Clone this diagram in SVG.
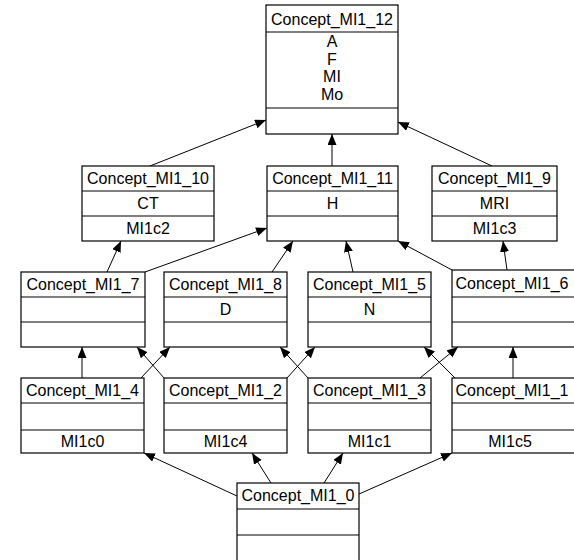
<svg xmlns="http://www.w3.org/2000/svg" width="574" height="560" viewBox="0 0 574 560">
<style>
.box{fill:#fff;stroke:#000;stroke-width:1.2}
.div{stroke:#000;stroke-width:1.2}
text{font-family:"Liberation Sans",Arial,sans-serif;font-size:16px;fill:#000;text-anchor:middle}
.e{stroke:#000;stroke-width:1;fill:none;marker-end:url(#ah)}
</style>
<defs>
<marker id="ah" markerUnits="userSpaceOnUse" markerWidth="12" markerHeight="10" refX="11" refY="4.5" orient="auto">
<path d="M0,0 L11,4.5 L0,9 z" fill="#000"/>
</marker>
</defs>
<rect width="574" height="560" fill="#fff"/>
<g id="connectors">
<line class="e" x1="150" y1="166" x2="266" y2="120"/>
<line class="e" x1="332" y1="166" x2="332" y2="134"/>
<line class="e" x1="492" y1="166" x2="398" y2="122"/>
<line class="e" x1="107" y1="272" x2="121" y2="241"/>
<line class="e" x1="145" y1="272" x2="267" y2="228"/>
<line class="e" x1="272" y1="272" x2="293" y2="241"/>
<line class="e" x1="353" y1="272" x2="346" y2="241"/>
<line class="e" x1="452" y1="270" x2="398" y2="241"/>
<line class="e" x1="507" y1="270" x2="503" y2="241"/>
<line class="e" x1="82" y1="378" x2="82" y2="347"/>
<line class="e" x1="164" y1="378" x2="137" y2="347"/>
<line class="e" x1="141" y1="378" x2="170" y2="347"/>
<line class="e" x1="287" y1="378" x2="315" y2="347"/>
<line class="e" x1="308" y1="378" x2="280" y2="347"/>
<line class="e" x1="420" y1="378" x2="458" y2="347"/>
<line class="e" x1="455" y1="378" x2="424" y2="347"/>
<line class="e" x1="513" y1="378" x2="513" y2="347"/>
<line class="e" x1="237" y1="496" x2="144" y2="453"/>
<line class="e" x1="271" y1="483" x2="252" y2="453"/>
<line class="e" x1="324" y1="483" x2="343" y2="453"/>
<line class="e" x1="359" y1="494" x2="452" y2="453"/>
</g>
<g id="n12">
<rect class="box" x="266" y="5" width="132" height="129"/>
<line class="div" x1="266" y1="32" x2="398" y2="32"/>
<line class="div" x1="266" y1="108" x2="398" y2="108"/>
<text x="332" y="25">Concept_MI1_12</text>
<text x="332" y="47">A</text>
<text x="332" y="64.5">F</text>
<text x="332" y="82">MI</text>
<text x="332" y="99.5">Mo</text>
</g>
<g id="n10">
<rect class="box" x="82" y="166" width="132" height="75"/>
<line class="div" x1="82" y1="191" x2="214" y2="191"/>
<line class="div" x1="82" y1="216" x2="214" y2="216"/>
<text x="148" y="184">Concept_MI1_10</text>
<text x="148" y="209">CT</text>
<text x="148" y="234">MI1c2</text>
</g>
<g id="n11">
<rect class="box" x="267" y="166" width="131" height="75"/>
<line class="div" x1="267" y1="191" x2="398" y2="191"/>
<line class="div" x1="267" y1="216" x2="398" y2="216"/>
<text x="332.5" y="184">Concept_MI1_11</text>
<text x="332.5" y="209">H</text>
</g>
<g id="n9">
<rect class="box" x="432" y="166" width="125" height="75"/>
<line class="div" x1="432" y1="191" x2="557" y2="191"/>
<line class="div" x1="432" y1="216" x2="557" y2="216"/>
<text x="494.5" y="184">Concept_MI1_9</text>
<text x="494.5" y="209">MRI</text>
<text x="494.5" y="234">MI1c3</text>
</g>
<g id="n7">
<rect class="box" x="21" y="272" width="124" height="75"/>
<line class="div" x1="21" y1="297" x2="145" y2="297"/>
<line class="div" x1="21" y1="322" x2="145" y2="322"/>
<text x="83" y="290">Concept_MI1_7</text>
</g>
<g id="n8">
<rect class="box" x="164" y="272" width="123" height="75"/>
<line class="div" x1="164" y1="297" x2="287" y2="297"/>
<line class="div" x1="164" y1="322" x2="287" y2="322"/>
<text x="225.5" y="290">Concept_MI1_8</text>
<text x="225.5" y="315">D</text>
</g>
<g id="n5">
<rect class="box" x="308" y="272" width="123" height="75"/>
<line class="div" x1="308" y1="297" x2="431" y2="297"/>
<line class="div" x1="308" y1="322" x2="431" y2="322"/>
<text x="369.5" y="290">Concept_MI1_5</text>
<text x="369.5" y="315">N</text>
</g>
<g id="n6">
<rect class="box" x="452" y="270" width="130" height="77"/>
<line class="div" x1="452" y1="297" x2="582" y2="297"/>
<line class="div" x1="452" y1="322" x2="582" y2="322"/>
<text x="512" y="289">Concept_MI1_6</text>
</g>
<g id="n4">
<rect class="box" x="21" y="378" width="123" height="75"/>
<line class="div" x1="21" y1="403" x2="144" y2="403"/>
<line class="div" x1="21" y1="430" x2="144" y2="430"/>
<text x="82.5" y="396">Concept_MI1_4</text>
<text x="82.5" y="447">MI1c0</text>
</g>
<g id="n2">
<rect class="box" x="164" y="378" width="123" height="75"/>
<line class="div" x1="164" y1="403" x2="287" y2="403"/>
<line class="div" x1="164" y1="430" x2="287" y2="430"/>
<text x="225.5" y="396">Concept_MI1_2</text>
<text x="225.5" y="447">MI1c4</text>
</g>
<g id="n3">
<rect class="box" x="308" y="378" width="123" height="75"/>
<line class="div" x1="308" y1="403" x2="431" y2="403"/>
<line class="div" x1="308" y1="430" x2="431" y2="430"/>
<text x="369.5" y="396">Concept_MI1_3</text>
<text x="369.5" y="447">MI1c1</text>
</g>
<g id="n1">
<rect class="box" x="452" y="378" width="130" height="75"/>
<line class="div" x1="452" y1="403" x2="582" y2="403"/>
<line class="div" x1="452" y1="430" x2="582" y2="430"/>
<text x="512" y="396">Concept_MI1_1</text>
<text x="510" y="447">MI1c5</text>
</g>
<g id="n0">
<rect class="box" x="237" y="483" width="122" height="78"/>
<line class="div" x1="237" y1="509" x2="359" y2="509"/>
<line class="div" x1="237" y1="535" x2="359" y2="535"/>
<text x="298" y="501">Concept_MI1_0</text>
</g>
</svg>
